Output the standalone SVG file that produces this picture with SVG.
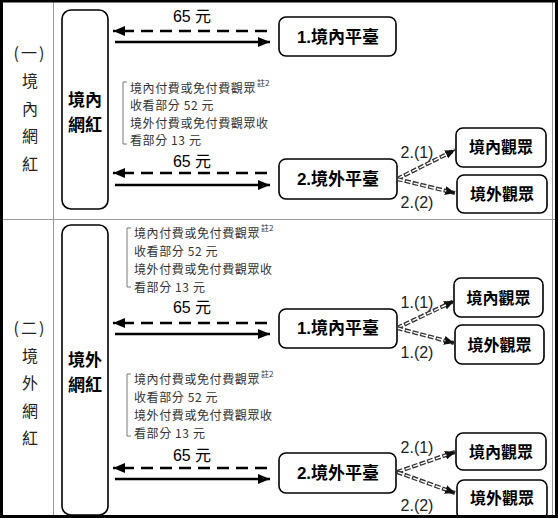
<svg xmlns="http://www.w3.org/2000/svg" width="558" height="518" viewBox="0 0 558 518">
<style>
text{font-family:"Liberation Sans","Noto Sans CJK TC",sans-serif;dominant-baseline:central;}
.side{font-family:"Noto Sans CJK TC",sans-serif;font-size:16px;fill:#222;text-anchor:middle;}
.box{fill:#fff;stroke:#000;stroke-width:1.6;}
.bt{font-size:17px;font-weight:bold;fill:#000;text-anchor:middle;}
.at{font-size:16px;fill:#000;text-anchor:middle;}
.note{font-family:"Noto Sans CJK TC",sans-serif;font-size:12px;letter-spacing:0.6px;fill:#333;}
.sup{font-family:"Noto Sans CJK TC",sans-serif;font-size:8px;fill:#333;}
.lbl{font-size:16px;fill:#222;text-anchor:middle;}
.brk{fill:none;stroke:#777;stroke-width:1;}
.solid{stroke:#000;stroke-width:2.5;fill:none;}
.dash{stroke:#000;stroke-width:2.5;fill:none;stroke-dasharray:12 7;}
.dd{stroke:#333;stroke-width:4;fill:none;stroke-dasharray:6 2;}
.ddi{stroke:#fff;stroke-width:1.4;fill:none;stroke-dasharray:6 2;}
.grid{stroke:#999;stroke-width:1;fill:none;}
</style>
<defs>
<marker id="ah" markerUnits="userSpaceOnUse" markerWidth="12" markerHeight="10" refX="12" refY="5" orient="auto"><path d="M0,0 L12,5 L0,10 z" fill="#000"/></marker>
<marker id="ah2" markerUnits="userSpaceOnUse" markerWidth="10" markerHeight="9" refX="10" refY="4.5" orient="auto"><path d="M0,0 L10,4.5 L0,9 z" fill="#111"/></marker>
</defs>
<rect width="558" height="518" fill="#fff"/>
<g id="frame">
<line class="grid" x1="53.5" y1="0" x2="53.5" y2="518"/>
<line class="grid" x1="0" y1="219.5" x2="558" y2="219.5"/>
<line class="grid" x1="552.5" y1="0" x2="552.5" y2="518"/>
</g>
<g id="side1">
<text class="side" x="30" y="52" letter-spacing="2">(一)</text>
<text class="side" x="30" y="80">境</text>
<text class="side" x="30" y="108">內</text>
<text class="side" x="30" y="135">網</text>
<text class="side" x="30" y="163">紅</text>
</g>
<g id="side2">
<text class="side" x="30" y="327" letter-spacing="2">(二)</text>
<text class="side" x="30" y="355">境</text>
<text class="side" x="30" y="382">外</text>
<text class="side" x="30" y="410">網</text>
<text class="side" x="30" y="437">紅</text>
</g>
<g id="n-domestic-influencer">
<rect class="box" x="62" y="10" width="46" height="199" rx="9"/>
<text class="bt" x="85" y="100">境內</text>
<text class="bt" x="85" y="125">網紅</text>
</g>
<g id="n-foreign-influencer">
<rect class="box" x="62" y="225" width="46" height="290" rx="9"/>
<text class="bt" x="85" y="360">境外</text>
<text class="bt" x="85" y="385">網紅</text>
</g>
<g id="n-s1-dom-platform">
<rect class="box" x="279" y="17" width="117" height="39" rx="7"/>
<text class="bt" x="338" y="37">1.境內平臺</text>
</g>
<g id="n-s1-for-platform">
<rect class="box" x="279" y="159" width="118" height="40" rx="7"/>
<text class="bt" x="338" y="179">2.境外平臺</text>
</g>
<g id="n-s1-dom-aud">
<rect class="box" x="456" y="128" width="90" height="39" rx="7"/>
<text class="bt" x="501" y="147" style="font-size:16px">境內觀眾</text>
</g>
<g id="n-s1-for-aud">
<rect class="box" x="457" y="175" width="90" height="38" rx="7"/>
<text class="bt" x="502" y="194" style="font-size:16px">境外觀眾</text>
</g>
<g id="n-s2-dom-platform">
<rect class="box" x="279" y="309" width="118" height="39" rx="7"/>
<text class="bt" x="338" y="328">1.境內平臺</text>
</g>
<g id="n-s2a-dom-aud">
<rect class="box" x="454" y="278" width="89" height="39" rx="7"/>
<text class="bt" x="498.5" y="298" style="font-size:16px">境內觀眾</text>
</g>
<g id="n-s2a-for-aud">
<rect class="box" x="455" y="325" width="89" height="39" rx="7"/>
<text class="bt" x="499.5" y="345" style="font-size:16px">境外觀眾</text>
</g>
<g id="n-s2-for-platform">
<rect class="box" x="279" y="453" width="117" height="40" rx="7"/>
<text class="bt" x="338" y="473">2.境外平臺</text>
</g>
<g id="n-s2b-dom-aud">
<rect class="box" x="456" y="433" width="90" height="37" rx="7"/>
<text class="bt" x="501" y="452" style="font-size:16px">境內觀眾</text>
</g>
<g id="n-s2b-for-aud">
<rect class="box" x="457" y="480" width="90" height="40" rx="7"/>
<text class="bt" x="502" y="498" style="font-size:16px">境外觀眾</text>
</g>
<g id="notes">
<path class="brk" d="M127,82 H123 V144 H127"/>
<text class="note" x="130" y="87">境內付費或免付費觀眾</text><text class="sup" x="257" y="82">註2</text>
<text class="note" x="130" y="104.5">收看部分 52 元</text>
<text class="note" x="130" y="122">境外付費或免付費觀眾收</text>
<text class="note" x="130" y="139.5">看部分 13 元</text>
<path class="brk" d="M131,228 H127 V287 H131"/>
<text class="note" x="134" y="232">境內付費或免付費觀眾</text><text class="sup" x="261" y="227">註2</text>
<text class="note" x="134" y="250">收看部分 52 元</text>
<text class="note" x="134" y="268">境外付費或免付費觀眾收</text>
<text class="note" x="134" y="286">看部分 13 元</text>
<path class="brk" d="M131,374 H127 V436 H131"/>
<text class="note" x="134" y="378">境內付費或免付費觀眾</text><text class="sup" x="261" y="373">註2</text>
<text class="note" x="134" y="396">收看部分 52 元</text>
<text class="note" x="134" y="414">境外付費或免付費觀眾收</text>
<text class="note" x="134" y="432">看部分 13 元</text>
</g>
<g id="connectors">
<text class="at" x="192" y="16">65 元</text>
<line class="dash" x1="267" y1="31" x2="113" y2="31" marker-end="url(#ah)"/>
<line class="solid" x1="115" y1="42" x2="270" y2="42" marker-end="url(#ah)"/>
<text class="at" x="192" y="161">65 元</text>
<line class="dash" x1="267" y1="173" x2="113" y2="173" marker-end="url(#ah)"/>
<line class="solid" x1="115" y1="185" x2="270" y2="185" marker-end="url(#ah)"/>
<text class="at" x="192" y="307">65 元</text>
<line class="dash" x1="267" y1="323" x2="113" y2="323" marker-end="url(#ah)"/>
<line class="solid" x1="115" y1="334" x2="270" y2="334" marker-end="url(#ah)"/>
<text class="at" x="192" y="455">65 元</text>
<line class="dash" x1="267" y1="468" x2="113" y2="468" marker-end="url(#ah)"/>
<line class="solid" x1="115" y1="479" x2="270" y2="479" marker-end="url(#ah)"/>

<path class="dd" d="M397,179 L455,150" marker-end="url(#ah2)"/><path class="ddi" d="M398,178.5 L447,154"/>
<path class="dd" d="M397,179 L455,193" marker-end="url(#ah2)"/><path class="ddi" d="M398,179.3 L446.3,191"/>
<text class="lbl" x="417" y="152">2.(1)</text>
<text class="lbl" x="417" y="202">2.(2)</text>

<path class="dd" d="M397,328 L454,301" marker-end="url(#ah2)"/><path class="ddi" d="M398,327.5 L446,305"/>
<path class="dd" d="M397,328 L454,343" marker-end="url(#ah2)"/><path class="ddi" d="M398,328.3 L445.3,340.7"/>
<text class="lbl" x="417" y="302">1.(1)</text>
<text class="lbl" x="417" y="352">1.(2)</text>

<path class="dd" d="M397,472 L455,452" marker-end="url(#ah2)"/><path class="ddi" d="M398,471.7 L446.5,454.9"/>
<path class="dd" d="M397,472 L455,493" marker-end="url(#ah2)"/><path class="ddi" d="M398,472.4 L446.5,489.9"/>
<text class="lbl" x="417" y="447">2.(1)</text>
<text class="lbl" x="417" y="505">2.(2)</text>
</g>
<g id="border">
<path d="M1.5,0 V518 M0,1 H558 M556.5,0 V518 M0,516.5 H558" stroke="#000" stroke-width="3" fill="none"/>
</g>
</svg>
